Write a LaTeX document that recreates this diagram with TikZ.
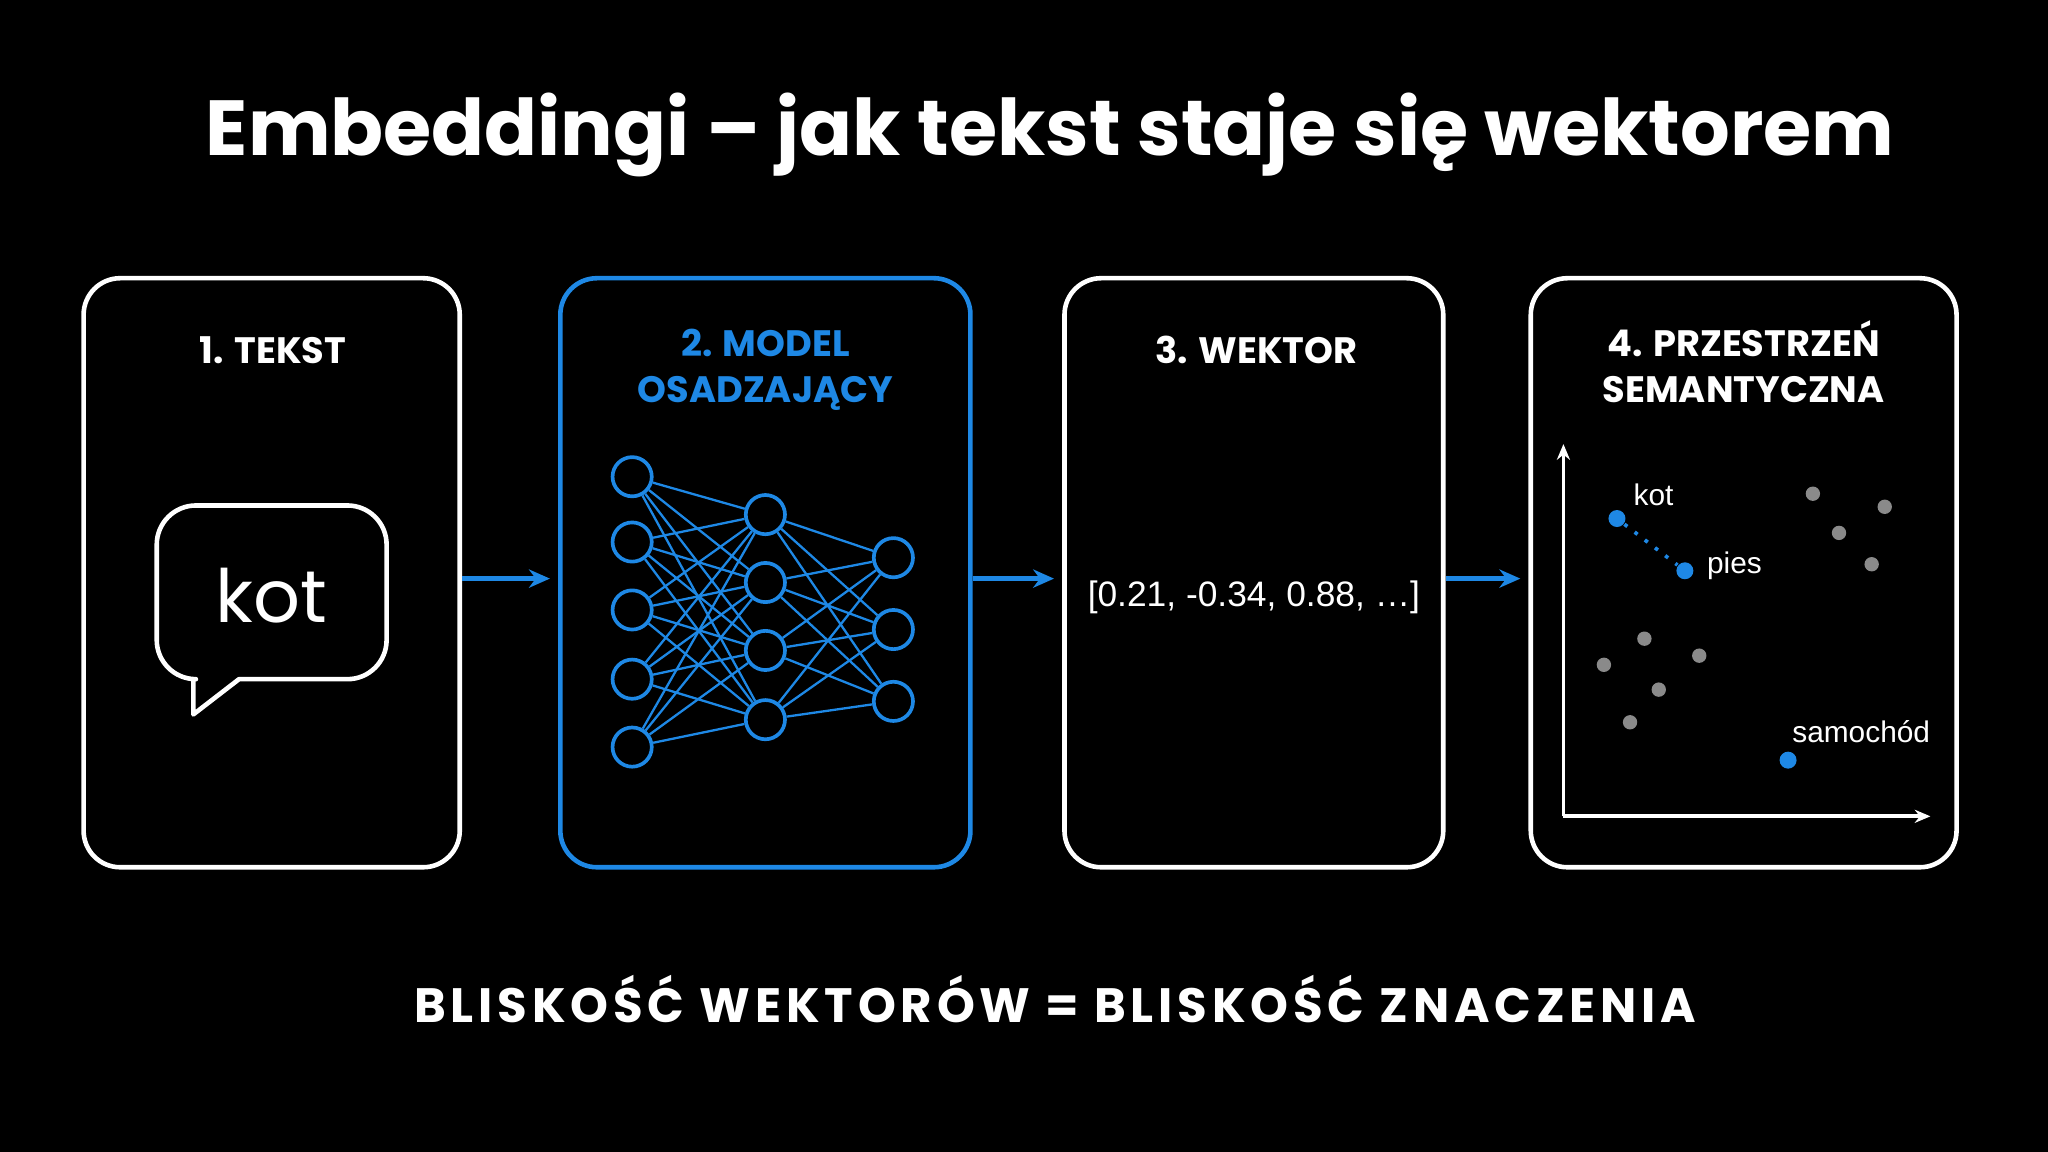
\documentclass[tikz,border=0pt]{standalone}
\usepackage{fontspec}
\setmainfont{Poppins}
\newfontfamily\bodyf{Liberation Sans}
\definecolor{bl}{HTML}{1E88E5}
\definecolor{gr}{HTML}{8A8A8A}
\begin{document}
\begin{tikzpicture}[x=0.01cm,y=-0.01cm,
  card/.style={draw=white,line width=1pt,rounded corners=0.28cm},
  ttl/.style={text=white,font=\fontsize{8}{10}\selectfont\bfseries,align=center},
  arr/.style={draw=bl,line width=1pt,-{Stealth[length=0.16cm,width=0.14cm]}},
  neu/.style={circle,draw=bl,line width=0.8pt,minimum size=0.3cm,inner sep=0},
  bd/.style={circle,fill=bl,minimum size=0.13cm,inner sep=0},
  gd/.style={circle,fill=gr,minimum size=0.11cm,inner sep=0},
  lab/.style={text=white,font=\bodyf\fontsize{6.5}{8}\selectfont}]
\usetikzlibrary{arrows.meta}
\fill[black] (0,0) rectangle (1568,882);
\useasboundingbox (0,0) rectangle (1568,882);
\node[text=white,font=\fontsize{17}{20}\selectfont\bfseries] (title) at (804,103) {Embeddingi – jak tekst staje się wektorem};
\draw[card] (64,213) rectangle (352,664);
\draw[card,draw=bl] (429,213) rectangle (743,664);
\draw[card] (815,213) rectangle (1105,664);
\draw[card] (1172,213) rectangle (1498,664);
\coordinate (c1) at (354,443); \coordinate (d1) at (421,443);
\coordinate (c2) at (745,443); \coordinate (d2) at (807,443);
\coordinate (c3) at (1107,443); \coordinate (d3) at (1164,443);
\draw[arr] (c1)--(d1); \draw[arr] (c2)--(d2); \draw[arr] (c3)--(d3);
\node[ttl] (t1) at (209,268) {1. TEKST};
\node[ttl,text=bl] (t2) at (586,283) {2. MODEL\\OSADZAJĄCY};
\node[ttl] (t3) at (962,268) {3. WEKTOR};
\node[ttl] (t4) at (1335,277) {4. PRZESTRZEŃ\\SEMANTYCZNA};
% bubble
\draw[white,line width=1pt,line join=round] (183,520) -- (148,547) -- (148,520)
  {[rounded corners=0.3cm] -- (120,520) -- (120,387) -- (296,387) -- (296,520)} -- cycle;
\node[text=white,font=\fontsize{16}{20}\selectfont] (kot) at (208,456) {kot};
% network
\foreach \y [count=\i] in {365,415,467,520,572} \node[neu] (a\i) at (484,\y) {};
\foreach \y [count=\i] in {394,446,498,551} \node[neu] (m\i) at (586,\y) {};
\foreach \y [count=\i] in {427,482,537} \node[neu] (o\i) at (684,\y) {};
\foreach \i in {1,...,5} \foreach \j in {1,...,4} \draw[bl,line width=0.5pt] (a\i)--(m\j);
\foreach \i in {1,...,4} \foreach \j in {1,...,3} \draw[bl,line width=0.5pt] (m\i)--(o\j);
\node[text=white,font=\bodyf\fontsize{7.7}{10}\selectfont] (vec) at (960,457) {[0.21, -0.34, 0.88, …]};
% axes
\coordinate (org) at (1197,625); \coordinate (yt) at (1197,340); \coordinate (xt) at (1478,625);
\draw[white,line width=0.8pt,-{Stealth[length=0.12cm,width=0.1cm]}] (org)--(yt);
\draw[white,line width=0.8pt,-{Stealth[length=0.12cm,width=0.1cm]}] (org)--(xt);
\node[bd] (pk) at (1238,397) {}; \node[bd] (pp) at (1290,437) {}; \node[bd] (ps) at (1369,582) {};
\draw[bl,dotted,line width=0.8pt] (pk)--(pp);
\node[lab] (lk) at (1266,379) {kot};
\node[lab] (lp) at (1328,433) {pies};
\node[lab] (ls) at (1425,560) {samochód};
\foreach \p [count=\i] in {(1388,378),(1443,388),(1408,408),(1433,432),(1259,489),(1228,509),(1301,502),(1270,528),(1248,553)} \node[gd] (g\i) at \p {};
\node[text=white,font=\fontsize{10.5}{14}\selectfont\bfseries\addfontfeature{LetterSpace=10}] (foot) at (808,765) {BLISKOŚĆ WEKTORÓW = BLISKOŚĆ ZNACZENIA};
\end{tikzpicture}
\end{document}
